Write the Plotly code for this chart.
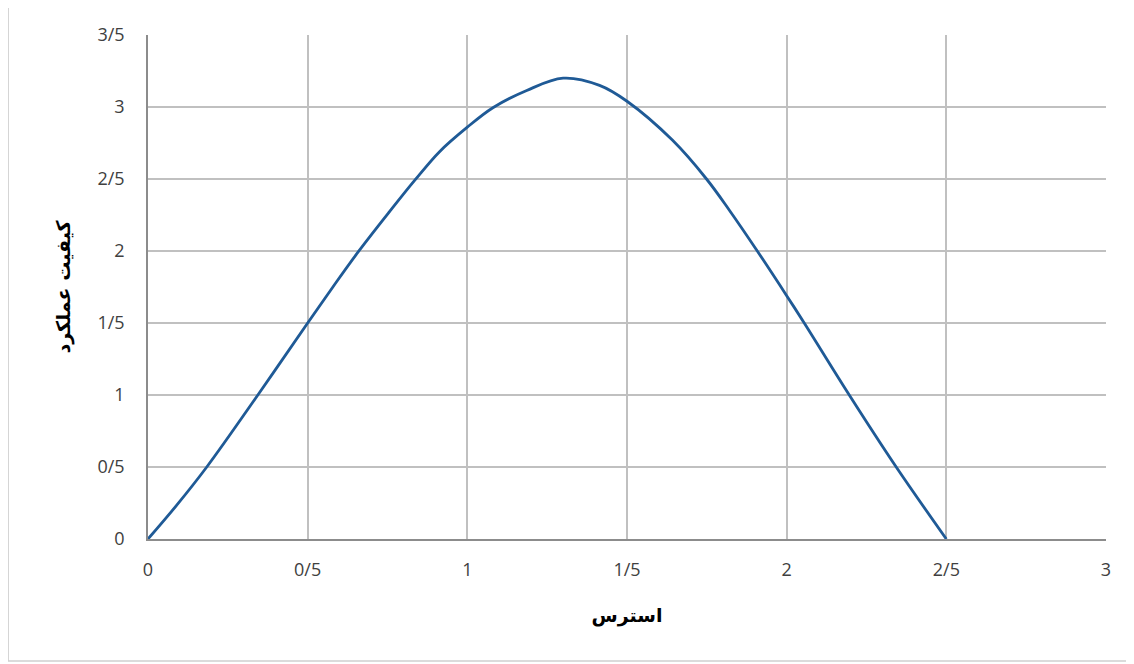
import plotly.graph_objects as go

# Data
stress = [0, 0.09, 0.184, 0.344, 0.5, 0.579, 0.657, 0.757, 0.835, 0.913, 1.0, 1.08, 1.186,
          1.30, 1.414, 1.5, 1.642, 1.749, 1.82, 1.908, 2.0, 2.055, 2.196, 2.343, 2.5]
performance = [0, 0.235, 0.5, 1.0, 1.5, 1.75, 1.99, 2.275, 2.49, 2.69, 2.86, 2.995, 3.115,
               3.20, 3.15, 3.04, 2.77, 2.5, 2.285, 2.0, 1.69, 1.5, 1.0, 0.5, 0]

x_tickvals = [0, 0.5, 1, 1.5, 2, 2.5, 3]
x_ticktext = ["0", "0/5", "1", "1/5", "2", "2/5", "3"]
y_tickvals = [0, 0.5, 1, 1.5, 2, 2.5, 3, 3.5]
y_ticktext = ["0", "0/5", "1", "1/5", "2", "2/5", "3", "3/5"]

x_title = "استرس"
y_title = "کیفیت عملکرد"

fig = go.Figure()
fig.add_trace(go.Scatter(
    x=stress, y=performance, mode="lines",
    line=dict(color="#1F5A96", width=2.8, shape="spline", smoothing=1.0),
    showlegend=False, hoverinfo="skip",
))

tick_font = dict(family="Open Sans, DejaVu Sans, sans-serif", size=18, color="#404040")
title_font = dict(family="DejaVu Sans, sans-serif", size=19, color="#000000")

fig.update_layout(
    width=1126, height=656,
    margin=dict(l=140, r=28, t=27, b=125),
    paper_bgcolor="white", plot_bgcolor="white",
    xaxis=dict(
        range=[0, 3], tickvals=x_tickvals, ticktext=x_ticktext,
        showgrid=True, gridcolor="#C0C0C0", gridwidth=1.5,
        showline=True, linecolor="#8C8C8C", linewidth=1.5,
        zeroline=False, ticks="", tickfont=tick_font, ticklabelstandoff=14,
        title=dict(text="<b>" + x_title + "</b>", font=title_font, standoff=28),
        fixedrange=True,
    ),
    yaxis=dict(
        range=[0, 3.5], tickvals=y_tickvals, ticktext=y_ticktext,
        showgrid=True, gridcolor="#C0C0C0", gridwidth=1.5,
        showline=True, linecolor="#8C8C8C", linewidth=1.5,
        zeroline=False, ticks="", tickfont=tick_font, ticklabelstandoff=18,
        title=dict(text="<b>" + y_title + "</b>", font=title_font, standoff=22),
        fixedrange=True,
    ),
    shapes=[dict(
        type="rect", xref="paper", yref="paper",
        x0=-0.146, x1=1.03, y0=-0.242, y1=1.0575,
        line=dict(color="#D0D0D0", width=1.5), fillcolor="rgba(0,0,0,0)", layer="below",
    )],
)

fig.write_html("out.html")
